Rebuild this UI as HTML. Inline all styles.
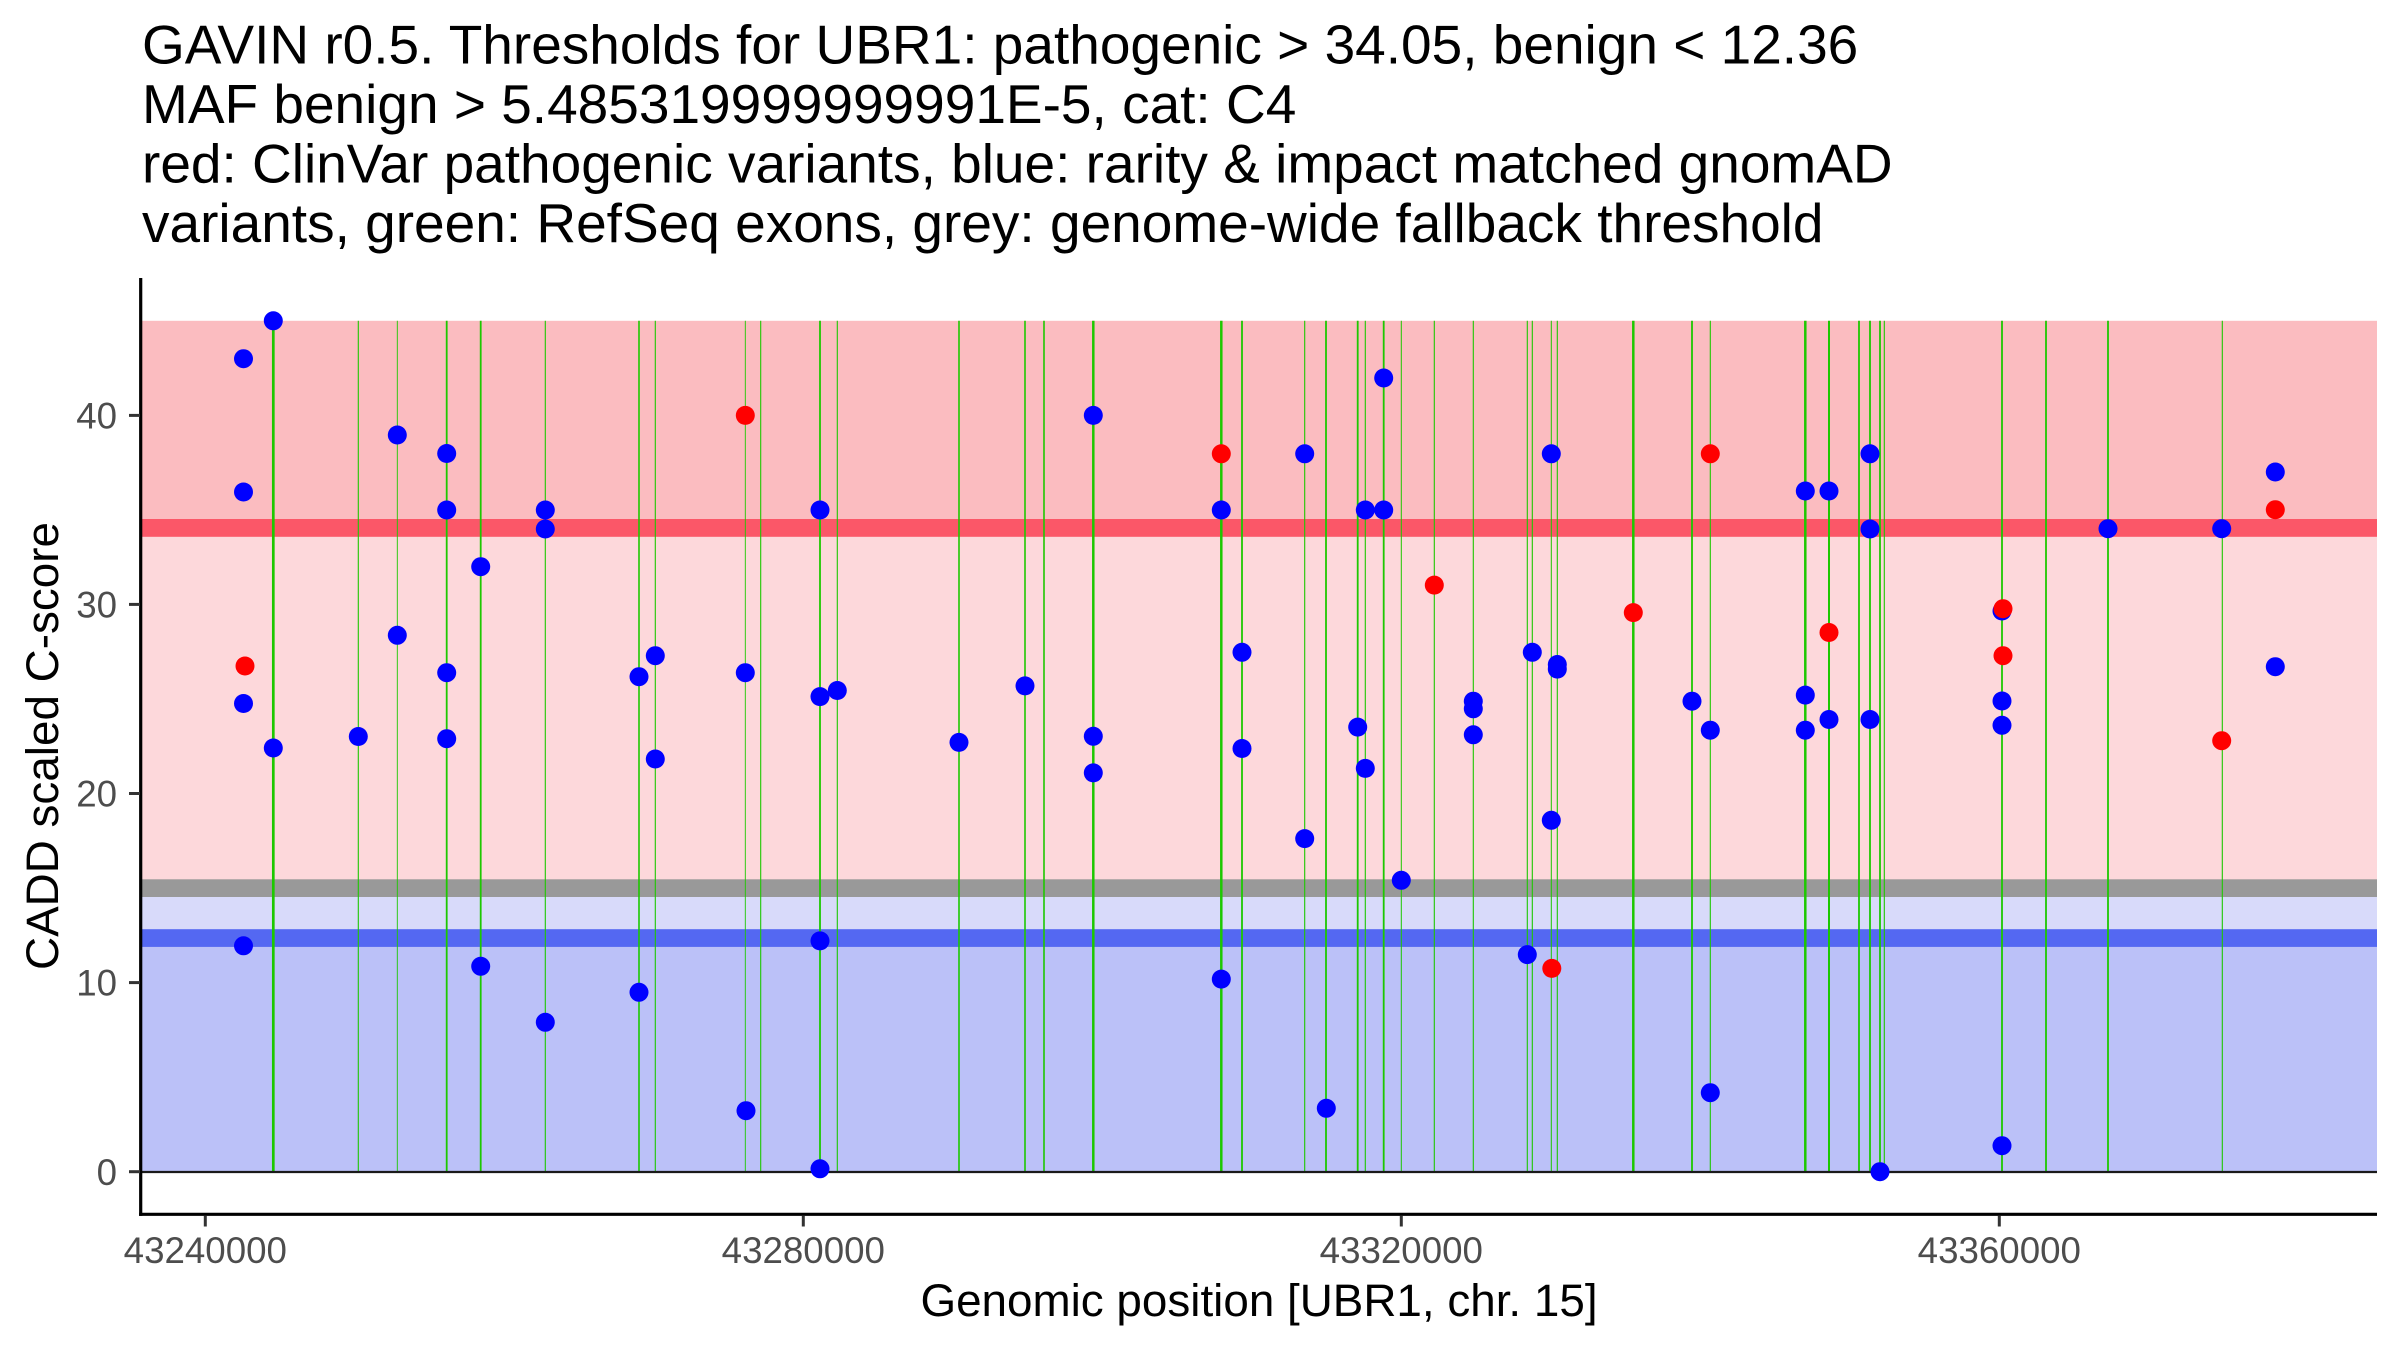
<!DOCTYPE html>
<html>
<head>
<meta charset="utf-8">
<style>
  html, body { margin: 0; padding: 0; background: #ffffff; }
  svg { display: block; }
  text { font-family: "Liberation Sans", Arial, sans-serif; }
</style>
</head>
<body>
<svg xmlns="http://www.w3.org/2000/svg" width="2400" height="1350" viewBox="0 0 2400 1350">
  <rect x="0" y="0" width="2400" height="1350" fill="#ffffff"/>

  <!-- Title -->
  <g font-size="55" fill="#000000">
    <text x="142" y="63.5">GAVIN r0.5. Thresholds for UBR1: pathogenic &gt; 34.05, benign &lt; 12.36</text>
    <text x="142" y="123">MAF benign &gt; 5.485319999999991E-5, cat: C4</text>
    <text x="142" y="182.5">red: ClinVar pathogenic variants, blue: rarity &amp; impact matched gnomAD</text>
    <text x="142" y="242">variants, green: RefSeq exons, grey: genome-wide fallback threshold</text>
  </g>

  <!-- Background regions -->
  <rect x="141.5" y="320.8" width="2235.5" height="207.1" fill="#FBBCC0"/>
  <rect x="141.5" y="527.9" width="2235.5" height="360.2" fill="#FDD8DB"/>
  <rect x="141.5" y="888.1" width="2235.5" height="49.9" fill="#D8DAFA"/>
  <rect x="141.5" y="938" width="2235.5" height="233.7" fill="#BBC1F8"/>

  <!-- Threshold bands -->
  <rect x="141.5" y="519" width="2235.5" height="17.8" fill="#FB5768"/>
  <rect x="141.5" y="879.3" width="2235.5" height="17.7" fill="#999999"/>
  <rect x="141.5" y="929.2" width="2235.5" height="17.7" fill="#5468F2"/>

  <!-- Exon lines -->
  <g stroke="#1DC800" fill="none">
    <line x1="273.3" y1="320.8" x2="273.3" y2="1171.7" stroke-width="2.7"/>
    <line x1="358.3" y1="320.8" x2="358.3" y2="1171.7" stroke-width="1.1"/>
    <line x1="397.3" y1="320.8" x2="397.3" y2="1171.7" stroke-width="0.9"/>
    <line x1="446.7" y1="320.8" x2="446.7" y2="1171.7" stroke-width="1.8"/>
    <line x1="480.7" y1="320.8" x2="480.7" y2="1171.7" stroke-width="1.8"/>
    <line x1="545.3" y1="320.8" x2="545.3" y2="1171.7" stroke-width="1.1"/>
    <line x1="639" y1="320.8" x2="639" y2="1171.7" stroke-width="1.6"/>
    <line x1="655.3" y1="320.8" x2="655.3" y2="1171.7" stroke-width="1.1"/>
    <line x1="745.3" y1="320.8" x2="745.3" y2="1171.7" stroke-width="0.9"/>
    <line x1="760.7" y1="320.8" x2="760.7" y2="1171.7" stroke-width="1.1"/>
    <line x1="820" y1="320.8" x2="820" y2="1171.7" stroke-width="1.8"/>
    <line x1="837.3" y1="320.8" x2="837.3" y2="1171.7" stroke-width="1.1"/>
    <line x1="959" y1="320.8" x2="959" y2="1171.7" stroke-width="1.6"/>
    <line x1="1025" y1="320.8" x2="1025" y2="1171.7" stroke-width="1.6"/>
    <line x1="1044" y1="320.8" x2="1044" y2="1171.7" stroke-width="1.6"/>
    <line x1="1093.3" y1="320.8" x2="1093.3" y2="1171.7" stroke-width="2.5"/>
    <line x1="1221.3" y1="320.8" x2="1221.3" y2="1171.7" stroke-width="2.5"/>
    <line x1="1242" y1="320.8" x2="1242" y2="1171.7" stroke-width="1.8"/>
    <line x1="1304.7" y1="320.8" x2="1304.7" y2="1171.7" stroke-width="1.1"/>
    <line x1="1326" y1="320.8" x2="1326" y2="1171.7" stroke-width="1.8"/>
    <line x1="1357.7" y1="320.8" x2="1357.7" y2="1171.7" stroke-width="1.8"/>
    <line x1="1365.3" y1="320.8" x2="1365.3" y2="1171.7" stroke-width="1.1"/>
    <line x1="1383.7" y1="320.8" x2="1383.7" y2="1171.7" stroke-width="1.8"/>
    <line x1="1401.3" y1="320.8" x2="1401.3" y2="1171.7" stroke-width="1"/>
    <line x1="1434.3" y1="320.8" x2="1434.3" y2="1171.7" stroke-width="1.1"/>
    <line x1="1473.3" y1="320.8" x2="1473.3" y2="1171.7" stroke-width="1.1"/>
    <line x1="1527.3" y1="320.8" x2="1527.3" y2="1171.7" stroke-width="1.1"/>
    <line x1="1532.3" y1="320.8" x2="1532.3" y2="1171.7" stroke-width="1.1"/>
    <line x1="1551.3" y1="320.8" x2="1551.3" y2="1171.7" stroke-width="1"/>
    <line x1="1557.3" y1="320.8" x2="1557.3" y2="1171.7" stroke-width="1.1"/>
    <line x1="1633.3" y1="320.8" x2="1633.3" y2="1171.7" stroke-width="2.5"/>
    <line x1="1692" y1="320.8" x2="1692" y2="1171.7" stroke-width="1.8"/>
    <line x1="1710.3" y1="320.8" x2="1710.3" y2="1171.7" stroke-width="1.1"/>
    <line x1="1805.3" y1="320.8" x2="1805.3" y2="1171.7" stroke-width="2.5"/>
    <line x1="1829" y1="320.8" x2="1829" y2="1171.7" stroke-width="2"/>
    <line x1="1859" y1="320.8" x2="1859" y2="1171.7" stroke-width="1.8"/>
    <line x1="1870" y1="320.8" x2="1870" y2="1171.7" stroke-width="1.8"/>
    <line x1="1880" y1="320.8" x2="1880" y2="1171.7" stroke-width="1.8"/>
    <line x1="1884.3" y1="320.8" x2="1884.3" y2="1171.7" stroke-width="1.1"/>
    <line x1="2002" y1="320.8" x2="2002" y2="1171.7" stroke-width="1.8"/>
    <line x1="2046" y1="320.8" x2="2046" y2="1171.7" stroke-width="1.8"/>
    <line x1="2108" y1="320.8" x2="2108" y2="1171.7" stroke-width="1.8"/>
    <line x1="2222.3" y1="320.8" x2="2222.3" y2="1171.7" stroke-width="1.1"/>
  </g>

  <!-- zero line -->
  <line x1="141.5" y1="1172" x2="2377" y2="1172" stroke="#1a1a1a" stroke-width="2.2"/>

  <!-- Blue points -->
  <g fill="#0000FF">
    <circle cx="243.5" cy="358.7" r="9.5"/>
    <circle cx="243.5" cy="492" r="9.5"/>
    <circle cx="243.5" cy="703.5" r="9.5"/>
    <circle cx="243.5" cy="945.8" r="9.5"/>
    <circle cx="273.3" cy="320.8" r="9.5"/>
    <circle cx="273.3" cy="748" r="9.5"/>
    <circle cx="358.3" cy="736.5" r="9.5"/>
    <circle cx="397.3" cy="435" r="9.5"/>
    <circle cx="397.3" cy="635.3" r="9.5"/>
    <circle cx="446.7" cy="453.5" r="9.5"/>
    <circle cx="446.7" cy="510" r="9.5"/>
    <circle cx="446.7" cy="672.7" r="9.5"/>
    <circle cx="446.7" cy="738.7" r="9.5"/>
    <circle cx="480.7" cy="566.7" r="9.5"/>
    <circle cx="480.7" cy="966.3" r="9.5"/>
    <circle cx="545.3" cy="510" r="9.5"/>
    <circle cx="545.3" cy="529" r="9.5"/>
    <circle cx="545.3" cy="1022.3" r="9.5"/>
    <circle cx="639" cy="676.7" r="9.5"/>
    <circle cx="639" cy="992.3" r="9.5"/>
    <circle cx="655.3" cy="655.7" r="9.5"/>
    <circle cx="655.3" cy="759" r="9.5"/>
    <circle cx="745.3" cy="672.7" r="9.5"/>
    <circle cx="746" cy="1110.7" r="9.5"/>
    <circle cx="820" cy="510" r="9.5"/>
    <circle cx="820" cy="696.6" r="9.5"/>
    <circle cx="837.3" cy="690.5" r="9.5"/>
    <circle cx="820" cy="940.9" r="9.5"/>
    <circle cx="820" cy="1168.8" r="9.5"/>
    <circle cx="959" cy="742.4" r="9.5"/>
    <circle cx="1025" cy="685.9" r="9.5"/>
    <circle cx="1093.3" cy="415.4" r="9.5"/>
    <circle cx="1093.3" cy="736.3" r="9.5"/>
    <circle cx="1093.3" cy="772.9" r="9.5"/>
    <circle cx="1221.3" cy="510" r="9.5"/>
    <circle cx="1221.3" cy="979.1" r="9.5"/>
    <circle cx="1242" cy="652.3" r="9.5"/>
    <circle cx="1242" cy="748.5" r="9.5"/>
    <circle cx="1304.7" cy="453.8" r="9.5"/>
    <circle cx="1304.7" cy="838.6" r="9.5"/>
    <circle cx="1326.3" cy="1108.3" r="9.5"/>
    <circle cx="1357.7" cy="727.1" r="9.5"/>
    <circle cx="1365.3" cy="510" r="9.5"/>
    <circle cx="1365.3" cy="768.4" r="9.5"/>
    <circle cx="1383.7" cy="378" r="9.5"/>
    <circle cx="1383.7" cy="510" r="9.5"/>
    <circle cx="1401.3" cy="880.3" r="9.5"/>
    <circle cx="1473.3" cy="701.2" r="9.5"/>
    <circle cx="1473.3" cy="708.8" r="9.5"/>
    <circle cx="1473.3" cy="734.8" r="9.5"/>
    <circle cx="1527.3" cy="954.6" r="9.5"/>
    <circle cx="1532.3" cy="652.3" r="9.5"/>
    <circle cx="1551.3" cy="453.8" r="9.5"/>
    <circle cx="1551.3" cy="820.3" r="9.5"/>
    <circle cx="1557.3" cy="664.5" r="9.5"/>
    <circle cx="1557.3" cy="669.1" r="9.5"/>
    <circle cx="1692" cy="701.2" r="9.5"/>
    <circle cx="1710.3" cy="730.2" r="9.5"/>
    <circle cx="1710.3" cy="1092.7" r="9.5"/>
    <circle cx="1805.3" cy="491" r="9.5"/>
    <circle cx="1805.3" cy="695.1" r="9.5"/>
    <circle cx="1805.3" cy="730.2" r="9.5"/>
    <circle cx="1829" cy="491" r="9.5"/>
    <circle cx="1829" cy="719.5" r="9.5"/>
    <circle cx="1870" cy="453.8" r="9.5"/>
    <circle cx="1870" cy="529" r="9.5"/>
    <circle cx="1870" cy="719.5" r="9.5"/>
    <circle cx="1880" cy="1171.7" r="9.5"/>
    <circle cx="2002" cy="611" r="9.5"/>
    <circle cx="2002" cy="701" r="9.5"/>
    <circle cx="2002" cy="725.3" r="9.5"/>
    <circle cx="2002" cy="1145.7" r="9.5"/>
    <circle cx="2108" cy="528.7" r="9.5"/>
    <circle cx="2221.7" cy="528.7" r="9.5"/>
    <circle cx="2275.3" cy="472" r="9.5"/>
    <circle cx="2275.3" cy="666.7" r="9.5"/>
  </g>

  <!-- Red points -->
  <g fill="#FF0000">
    <circle cx="245" cy="666" r="9.5"/>
    <circle cx="745.3" cy="415.4" r="9.5"/>
    <circle cx="1221.3" cy="453.8" r="9.5"/>
    <circle cx="1434.3" cy="585.1" r="9.5"/>
    <circle cx="1551.8" cy="968.4" r="9.5"/>
    <circle cx="1633.3" cy="612.6" r="9.5"/>
    <circle cx="1710.3" cy="453.8" r="9.5"/>
    <circle cx="1829" cy="632.5" r="9.5"/>
    <circle cx="2003" cy="608.7" r="9.5"/>
    <circle cx="2003" cy="655.7" r="9.5"/>
    <circle cx="2221.7" cy="740.7" r="9.5"/>
    <circle cx="2275.3" cy="509.7" r="9.5"/>
  </g>

  <!-- Axes -->
  <line x1="140.7" y1="278" x2="140.7" y2="1215.9" stroke="#000000" stroke-width="3.2"/>
  <line x1="139.1" y1="1214.3" x2="2377" y2="1214.3" stroke="#000000" stroke-width="3.2"/>

  <!-- Y ticks -->
  <g stroke="#333333" stroke-width="3">
    <line x1="129" y1="1171.7" x2="140" y2="1171.7"/>
    <line x1="129" y1="982.6" x2="140" y2="982.6"/>
    <line x1="129" y1="793.5" x2="140" y2="793.5"/>
    <line x1="129" y1="604.4" x2="140" y2="604.4"/>
    <line x1="129" y1="415.4" x2="140" y2="415.4"/>
  </g>
  <g font-size="36.7" fill="#4D4D4D" text-anchor="end">
    <text x="117" y="1184.8">0</text>
    <text x="117" y="995.7">10</text>
    <text x="117" y="806.6">20</text>
    <text x="117" y="617.5">30</text>
    <text x="117" y="428.5">40</text>
  </g>

  <!-- X ticks -->
  <g stroke="#333333" stroke-width="3">
    <line x1="205.3" y1="1215.5" x2="205.3" y2="1226.5"/>
    <line x1="803.3" y1="1215.5" x2="803.3" y2="1226.5"/>
    <line x1="1401.3" y1="1215.5" x2="1401.3" y2="1226.5"/>
    <line x1="1999.3" y1="1215.5" x2="1999.3" y2="1226.5"/>
  </g>
  <g font-size="36.7" fill="#4D4D4D" text-anchor="middle">
    <text x="205.3" y="1263">43240000</text>
    <text x="803.3" y="1263">43280000</text>
    <text x="1401.3" y="1263">43320000</text>
    <text x="1999.3" y="1263">43360000</text>
  </g>

  <!-- Axis titles -->
  <text x="1259" y="1316" font-size="45.8" fill="#000000" text-anchor="middle">Genomic position [UBR1, chr. 15]</text>
  <text transform="translate(58,746) rotate(-90)" font-size="45.8" fill="#000000" text-anchor="middle">CADD scaled C-score</text>
</svg>
</body>
</html>
